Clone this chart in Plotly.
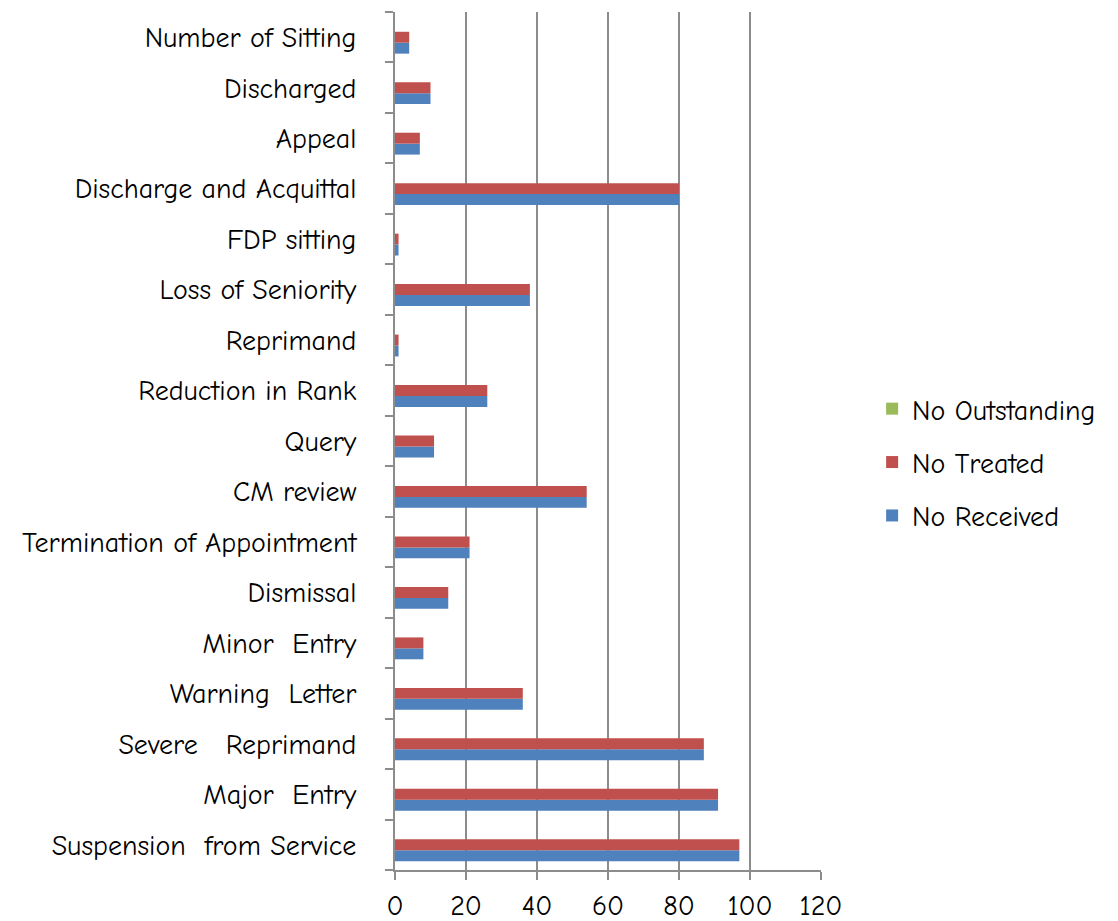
import plotly.graph_objects as go

# Disciplinary case categories (bottom to top), with double spaces kept
categories = [
    "Suspension\u00a0\u00a0from Service",
    "Major\u00a0\u00a0Entry",
    "Severe\u00a0\u00a0\u00a0Reprimand",
    "Warning\u00a0\u00a0Letter",
    "Minor\u00a0\u00a0Entry",
    "Dismissal",
    "Termination of Appointment",
    "CM review",
    "Query",
    "Reduction in Rank",
    "Reprimand",
    "Loss of Seniority",
    "FDP sitting",
    "Discharge and Acquittal",
    "Appeal",
    "Discharged",
    "Number of Sitting",
]

no_received = [97, 91, 87, 36, 8, 15, 21, 54, 11, 26, 1, 38, 1, 80, 7, 10, 4]
no_treated = [97, 91, 87, 36, 8, 15, 21, 54, 11, 26, 1, 38, 1, 80, 7, 10, 4]
no_outstanding = [0] * 17

x_ticks = [0, 20, 40, 60, 80, 100, 120]

FONT = "Comic Sans MS, Comic Neue, Lato, sans-serif"
GRID = "#8c8c8c"

fig = go.Figure()
for name, vals, color, rank in [
    ("No Received", no_received, "#4F81BD", 3),
    ("No Treated", no_treated, "#C0504D", 2),
    ("No Outstanding", no_outstanding, "#9BBB59", 1),
]:
    fig.add_trace(go.Bar(
        y=categories, x=vals, name=name, orientation="h",
        legendgroup=name, legendrank=rank,
        marker=dict(color=color, line=dict(width=0)),
    ))

fig.update_layout(
    width=1118, height=921,
    margin=dict(l=395, r=297, t=12, b=51),
    paper_bgcolor="white", plot_bgcolor="white",
    barmode="group", bargap=0.35, bargroupgap=0,
    font=dict(family=FONT, size=28, color="black"),
    legend=dict(
        x=1.12, y=0.475, xanchor="left", yanchor="middle",
        traceorder="grouped", font=dict(size=28),
        itemwidth=30, tracegroupgap=14,
    ),
    showlegend=True,
)
fig.update_xaxes(
    range=[0, 120], tickvals=x_ticks, ticks="outside", ticklen=8,
    tickcolor=GRID, tickwidth=2,
    showgrid=True, gridcolor=GRID, gridwidth=2,
    showline=True, linecolor=GRID, linewidth=2,
    zeroline=False, tickfont=dict(size=28), ticklabelstandoff=1,
    automargin=False,
)
fig.update_yaxes(
    categoryorder="array", categoryarray=categories,
    ticks="outside", ticklen=8, tickcolor=GRID, tickwidth=2,
    tickson="boundaries", showline=True, linecolor=GRID, linewidth=2,
    showgrid=False, ticklabelstandoff=31, tickfont=dict(size=28),
    automargin=False,
)

fig.write_html("out.html")
